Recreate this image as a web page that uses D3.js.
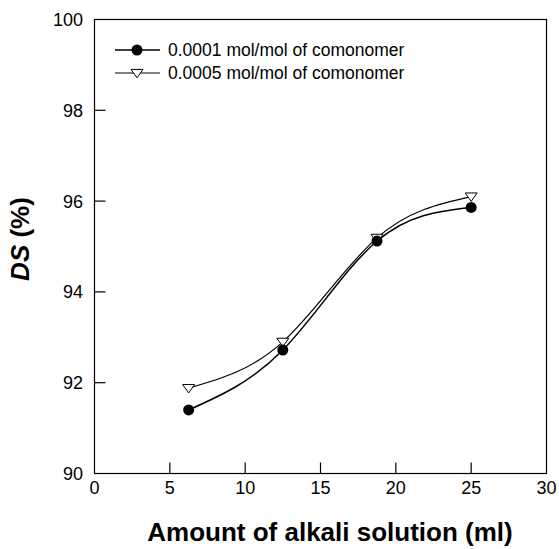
<!DOCTYPE html>
<html><head><meta charset="utf-8">
<script src="https://cdn.jsdelivr.net/npm/d3@7"></script>
<style>body{margin:0;background:#fff}svg{display:block;font-family:"Liberation Sans",Arial,sans-serif}</style>
</head><body>
<script>
const xValues = [6.25, 12.5, 18.75, 25];
const series1 = [91.40, 92.72, 95.12, 95.86];
const series2 = [91.88, 92.90, 95.19, 96.10];
const seriesNames = ["0.0001 mol/mol of comonomer", "0.0005 mol/mol of comonomer"];
const xTicks = [0, 5, 10, 15, 20, 25, 30];
const yTicks = [90, 92, 94, 96, 98, 100];

const W = 559, H = 549;
const svg = d3.select("body").append("svg").attr("width", W).attr("height", H);
const x = d3.scaleLinear().domain([0, 30]).range([94.5, 546.5]);
const y = d3.scaleLinear().domain([90, 100]).range([473.5, 19.5]);

// frame
svg.append("rect").attr("x", x(0)).attr("y", y(100)).attr("width", x(30) - x(0)).attr("height", y(90) - y(100))
  .attr("fill", "none").attr("stroke", "#000").attr("stroke-width", 1.2);

// x ticks (inward)
svg.append("g").selectAll("line").data(xTicks.slice(1, -1)).join("line")
  .attr("x1", d => x(d)).attr("x2", d => x(d)).attr("y1", y(90)).attr("y2", y(90) - 11)
  .attr("stroke", "#000").attr("stroke-width", 1.2);
svg.append("g").selectAll("text").data(xTicks).join("text")
  .attr("x", d => x(d)).attr("y", 494).attr("text-anchor", "middle").attr("font-size", 18).text(d => d);

// y ticks
svg.append("g").selectAll("line").data(yTicks.slice(1, -1)).join("line")
  .attr("x1", x(0)).attr("x2", x(0) + 11).attr("y1", d => y(d)).attr("y2", d => y(d))
  .attr("stroke", "#000").attr("stroke-width", 1.2);
svg.append("g").selectAll("text").data(yTicks).join("text")
  .attr("x", 83).attr("y", d => y(d) + 6.5).attr("text-anchor", "end").attr("font-size", 18).text(d => d);

// axis titles
svg.append("text").attr("x", 330).attr("y", 541).attr("text-anchor", "middle")
  .attr("font-size", 26).attr("font-weight", "bold").text("Amount of alkali solution (ml)");
const yt = svg.append("text").attr("transform", "translate(29,239) rotate(-90)").attr("text-anchor", "middle")
  .attr("font-size", 26).attr("font-weight", "bold");
yt.append("tspan").attr("font-style", "italic").text("DS");
yt.append("tspan").text(" (%)");

const line = d3.line().x(d => x(d[0])).y(d => y(d[1])).curve(d3.curveNatural);
const d1 = xValues.map((v, i) => [v, series1[i]]);
const d2 = xValues.map((v, i) => [v, series2[i]]);

svg.append("path").attr("d", line(d2)).attr("fill", "none").attr("stroke", "#000").attr("stroke-width", 1.2);
svg.append("path").attr("d", line(d1)).attr("fill", "none").attr("stroke", "#000").attr("stroke-width", 1.5);

function triPath(cx, cy) {
  const s = 6;
  return `M${cx - s},${cy - s * 0.6}L${cx + s},${cy - s * 0.6}L${cx},${cy + s * 0.8}Z`;
}
svg.append("g").selectAll("path").data(d2).join("path")
  .attr("d", d => triPath(x(d[0]), y(d[1]))).attr("fill", "#fff").attr("stroke", "#000").attr("stroke-width", 1);
svg.append("g").selectAll("circle").data(d1).join("circle")
  .attr("cx", d => x(d[0])).attr("cy", d => y(d[1])).attr("r", 5.5).attr("fill", "#000");

// legend
const leg = svg.append("g");
[0, 1].forEach(i => {
  const ly = i === 0 ? 50 : 73;
  leg.append("line").attr("x1", 115).attr("x2", 160).attr("y1", ly).attr("y2", ly)
    .attr("stroke", "#000").attr("stroke-width", i === 0 ? 1.5 : 1);
  if (i === 0) leg.append("circle").attr("cx", 137).attr("cy", ly).attr("r", 5.5).attr("fill", "#000");
  else leg.append("path").attr("d", triPath(137, ly)).attr("fill", "#fff").attr("stroke", "#000").attr("stroke-width", 1);
  leg.append("text").attr("x", 168).attr("y", ly + 6).attr("font-size", 17.5).text(seriesNames[i]);
});
</script>
</body></html>
